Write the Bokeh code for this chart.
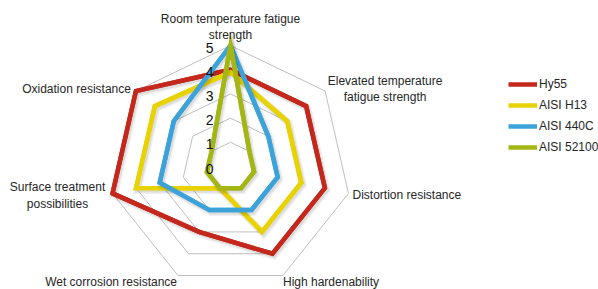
import math
from bokeh.plotting import figure
from bokeh.models import Range1d, Legend, LegendItem
from bokeh.core.properties import value
from bokeh.embed import file_html
from bokeh.resources import INLINE

categories = [
    "Room temperature fatigue\nstrength",
    "Elevated temperature\nfatigue strength",
    "Distortion resistance",
    "High hardenability",
    "Wet corrosion resistance",
    "Surface treatment\npossibilities",
    "Oxidation resistance",
]
series_names = ["Hy55", "AISI H13", "AISI 440C", "AISI 52100"]
hy55 = [4, 4, 4, 4, 3, 5, 5]
aisi_h13 = [3.9, 3, 3, 3, 1, 4, 4]
aisi_440c = [5, 2, 2, 2, 2, 3, 3]
aisi_52100 = [5, 1, 1, 1, 1, 1, 1]
ticks = [0, 1, 2, 3, 4, 5]
colors = ["#C4281C", "#E8D200", "#3CA3DA", "#A3B614"]

W, H = 598, 289
UNIT = 24.2          # pixels per value unit
CX, CY = 230, 166    # centre of the radar in figure pixels
FONT = "Liberation Sans"

n = len(categories)
angles = [math.pi / 2 - 2 * math.pi * k / n for k in range(n)]

def xy(vals):
    xs = [v * math.cos(a) for v, a in zip(vals, angles)]
    ys = [v * math.sin(a) for v, a in zip(vals, angles)]
    return xs, ys

p = figure(width=W, height=H, output_backend="svg", toolbar_location=None,
           x_axis_location=None, y_axis_location=None, min_border=0,
           x_range=Range1d(-CX / UNIT, (W - CX) / UNIT),
           y_range=Range1d(-(H - CY) / UNIT, CY / UNIT))
p.grid.visible = False
p.outline_line_color = None
p.background_fill_color = "white"
p.border_fill_color = "white"

# rings
for t in ticks[1:]:
    xs, ys = xy([t] * n)
    p.patch(xs, ys, fill_color=None, line_color="#BFBFBF", line_width=1)

# series (with a soft drop shadow)
sdx, sdy = 1.5 / UNIT, -2.0 / UNIT
items = []
for name, vals, col in zip(series_names, [hy55, aisi_h13, aisi_440c, aisi_52100], colors):
    xs, ys = xy(vals)
    sx = [x + sdx for x in xs]
    sy = [y + sdy for y in ys]
    p.patch(sx, sy, fill_color=None, line_color="black", line_alpha=0.06,
            line_width=8, line_join="miter")
    p.patch(sx, sy, fill_color=None, line_color="black", line_alpha=0.08,
            line_width=5, line_join="miter")
    r = p.line(xs + xs[:1], ys + ys[:1], line_color=col, line_width=4.5, line_join="miter")
    p.patch(xs, ys, fill_color=None, line_color=col, line_width=4.5, line_join="miter")
    items.append(LegendItem(label=name, renderers=[r]))

# tick labels (on top of the series)
p.text(x=[0] * len(ticks), y=ticks, text=[str(t) for t in ticks],
       x_offset=-17, y_offset=2, text_align="right", text_baseline="middle",
       text_font=value(FONT), text_font_size="14px", text_color="#111111")

# category labels
vx, vy = xy([5] * n)
label_align = ["center", "center", "left", "left", "right", "center", "right"]
label_base = ["bottom", "middle", "middle", "middle", "middle", "middle", "middle"]
label_dx = [0, 60, 4, 0, -1, -55, -5]
label_dy = [-3, -2, 2, 6, 6, 2, -2]
for k in range(n):
    p.text(x=[vx[k]], y=[vy[k]], text=[categories[k]],
           x_offset=label_dx[k], y_offset=label_dy[k],
           text_align=label_align[k], text_baseline=label_base[k],
           text_font=value(FONT), text_font_size="12px", text_color="#262626",
           text_line_height=1.2)

legend = Legend(items=items, location=(508, 132), orientation="vertical",
                glyph_width=29, glyph_height=20, label_height=20, label_standoff=2,
                spacing=1, padding=0, margin=0,
                label_text_font=FONT, label_text_font_size="12px", label_text_color="#262626",
                border_line_color=None, background_fill_alpha=0)
p.add_layout(legend)

open("out.html", "w").write(file_html(p, INLINE))
